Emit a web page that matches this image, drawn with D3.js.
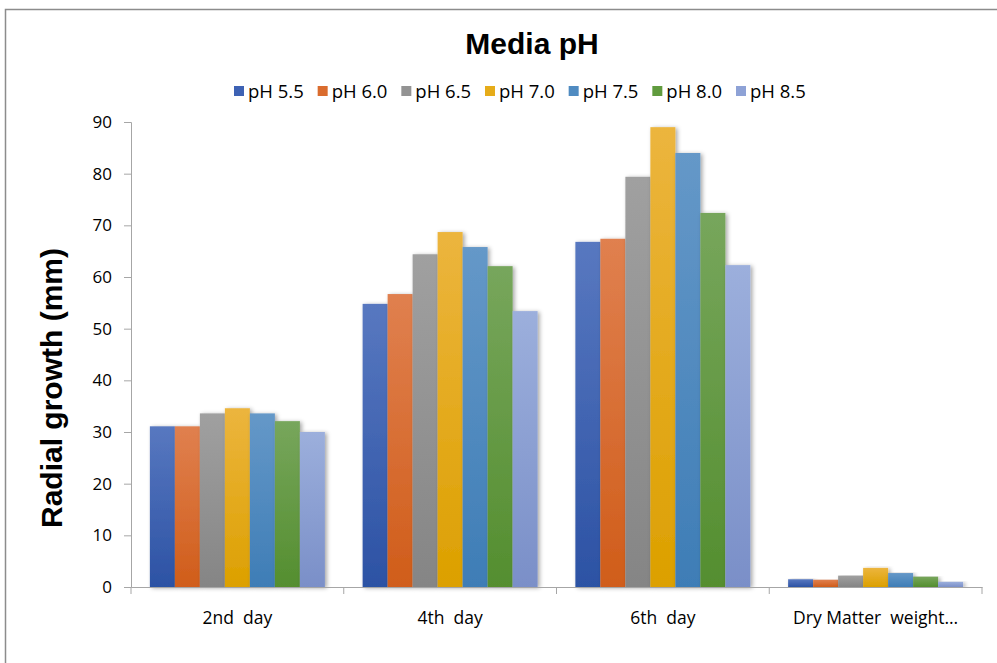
<!DOCTYPE html>
<html>
<head>
<meta charset="utf-8">
<script src="https://cdn.jsdelivr.net/npm/d3@7"></script>
<style>
html,body{margin:0;padding:0;background:#fff;}
svg{display:block;}
</style>
</head>
<body>
<svg id="chart" width="997" height="663"></svg>
<script>
const categories = ["2nd  day", "4th  day", "6th  day", "Dry Matter  weight\u2026"];
const seriesNames = ["pH 5.5", "pH 6.0", "pH 6.5", "pH 7.0", "pH 7.5", "pH 8.0", "pH 8.5"];
const pH55 = [31.1, 54.8, 66.8, 1.5];
const pH60 = [31.1, 56.7, 67.4, 1.4];
const pH65 = [33.6, 64.4, 79.4, 2.2];
const pH70 = [34.6, 68.7, 89.0, 3.7];
const pH75 = [33.6, 65.8, 84.0, 2.7];
const pH80 = [32.1, 62.1, 72.4, 2.0];
const pH85 = [30.0, 53.4, 62.3, 1.0];
const seriesValues = [pH55, pH60, pH65, pH70, pH75, pH80, pH85];
const yTicks = [0, 10, 20, 30, 40, 50, 60, 70, 80, 90];
const colorsTop = ["#5878c0", "#e0804f", "#a0a0a0", "#ecb53e", "#6598c8", "#77a65c", "#9cafdc"];
const colorsBottom = ["#2c52a4", "#d05d1a", "#858585", "#dca000", "#3e7db6", "#548e2f", "#7a8fc8"];
const legendColors = ["#3d62b4", "#da6c2e", "#939393", "#e6ac19", "#4f8bc1", "#609b3e", "#8ea2d6"];

(function() {
const svg = d3.select("#chart");
const defs = svg.append("defs");
seriesNames.forEach((s, i) => {
  const g = defs.append("linearGradient").attr("id", "grad" + i)
    .attr("x1", 0).attr("y1", 0).attr("x2", 0).attr("y2", 1);
  g.append("stop").attr("offset", "0%").attr("stop-color", colorsTop[i]);
  g.append("stop").attr("offset", "100%").attr("stop-color", colorsBottom[i]);
});
const f = defs.append("filter").attr("id", "shadow").attr("x", "-20%").attr("y", "-5%").attr("width", "150%").attr("height", "110%");
f.append("feDropShadow").attr("dx", 2).attr("dy", 1).attr("stdDeviation", 2).attr("flood-color", "#000").attr("flood-opacity", 0.35);

// chart border
svg.append("rect").attr("x", 5.5).attr("y", 9.5).attr("width", 1000).attr("height", 700)
  .attr("fill", "#fff").attr("stroke", "#8c8c8c").attr("stroke-width", 1.5);

const pLeft = 131, pRight = 982, pTop = 122, pBottom = 587;
const x0 = d3.scaleBand().domain(categories).range([pLeft, pRight]).paddingInner(0).paddingOuter(0);
const x1 = d3.scaleBand().domain(seriesNames).range([0, x0.bandwidth()]).paddingOuter(0.755).paddingInner(0);
const y = d3.scaleLinear().domain([0, 90]).range([pBottom, pTop]);

// bars
const groups = svg.append("g").selectAll("g").data(categories).join("g")
  .attr("transform", d => `translate(${x0(d)},0)`);
groups.each(function(cat, ci) {
  d3.select(this).selectAll("rect").data(seriesNames.map((s, si) => ({s, si, v: seriesValues[si][ci]})))
    .join("rect")
    .attr("x", d => x1(d.s))
    .attr("y", d => y(d.v))
    .attr("width", x1.bandwidth())
    .attr("height", d => y(0) - y(d.v))
    .attr("fill", d => `url(#grad${d.si})`)
    .attr("filter", "url(#shadow)");
});

// y axis
const yAxis = svg.append("g").attr("transform", `translate(${pLeft},0)`)
  .call(d3.axisLeft(y).tickValues(yTicks).tickSize(7).tickPadding(12));
yAxis.select(".domain").attr("stroke", "#a6a6a6");
yAxis.selectAll(".tick line").attr("stroke", "#a6a6a6");
yAxis.selectAll("text").attr("font-family", "'Open Sans', sans-serif").attr("font-size", 17).attr("fill", "#000");

// x axis
const xAxis = svg.append("g").attr("transform", `translate(0,${pBottom})`)
  .call(d3.axisBottom(x0).tickSize(0).tickPadding(25));
xAxis.select(".domain").attr("stroke", "#a6a6a6");
xAxis.selectAll("text").attr("font-family", "'Open Sans', sans-serif").attr("font-size", 17.5).attr("fill", "#000")
  .style("white-space", "pre");
const bounds = categories.map(c => x0(c)).concat([pRight]);
svg.append("g").selectAll("line").data(bounds).join("line")
  .attr("x1", d => d).attr("x2", d => d).attr("y1", pBottom).attr("y2", pBottom + 7)
  .attr("stroke", "#a6a6a6");

// title
svg.append("text").attr("x", 532).attr("y", 54).attr("text-anchor", "middle")
  .attr("font-family", "'Liberation Sans', Arial, sans-serif").attr("font-weight", "bold").attr("font-size", 30)
  .text("Media pH");

// y title
svg.append("text").attr("transform", "translate(62,388) rotate(-90)").attr("text-anchor", "middle")
  .attr("font-family", "'Liberation Sans', Arial, sans-serif").attr("font-weight", "bold").attr("font-size", 30)
  .text("Radial growth (mm)");

// legend
const legX = d3.scalePoint().domain(seriesNames).range([234, 736]);
const leg = svg.append("g").selectAll("g").data(seriesNames).join("g")
  .attr("transform", d => `translate(${legX(d)},86)`);
leg.append("rect").attr("width", 10).attr("height", 10).attr("y", 0).attr("fill", (d, i) => legendColors[i]);
leg.append("text").attr("x", 14).attr("y", 11.5).attr("font-family", "'Open Sans', sans-serif").attr("font-size", 18.5)
  .text(d => d);
})();
</script>
</body>
</html>
